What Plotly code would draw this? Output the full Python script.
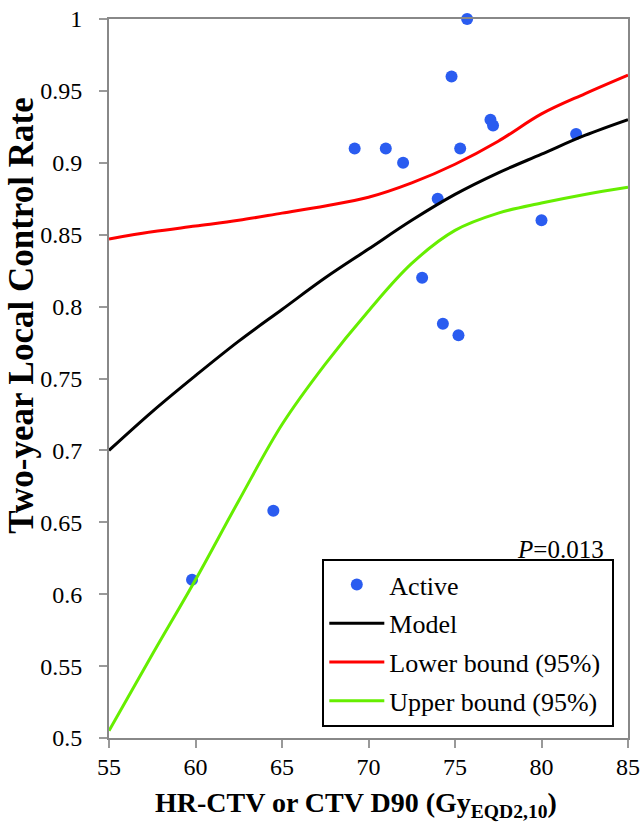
import plotly.graph_objects as go

# Observed data points
dose_pts = [75.7, 74.8, 77.05, 77.2, 69.2, 71.0, 72.0, 75.3, 74.0, 82.0, 80.0, 73.1, 74.3, 75.2, 64.5, 59.8]
lcr_pts = [1.0, 0.96, 0.930, 0.926, 0.910, 0.910, 0.900, 0.910, 0.875, 0.920, 0.860, 0.820, 0.788, 0.780, 0.658, 0.610]

# Model curves
dose_curve = [55, 57.5, 60, 62.5, 65, 67.5, 70, 72.5, 75, 77.5, 80, 82.5, 85]
model = [0.700, 0.727, 0.752, 0.776, 0.798, 0.820, 0.840, 0.860, 0.878, 0.893, 0.906, 0.919, 0.930]
lower = [0.847, 0.852, 0.856, 0.860, 0.865, 0.870, 0.876, 0.886, 0.899, 0.915, 0.934, 0.948, 0.961]
upper = [0.505, 0.558, 0.610, 0.665, 0.718, 0.760, 0.797, 0.830, 0.853, 0.865, 0.872, 0.878, 0.883]

series_names = ["Active", "Model", "Lower bound (95%)", "Upper bound (95%)"]

x_ticks = [55, 60, 65, 70, 75, 80, 85]
y_ticks = [0.5, 0.55, 0.6, 0.65, 0.7, 0.75, 0.8, 0.85, 0.9, 0.95, 1]

FONT = "Liberation Serif, Times New Roman, serif"
X_RANGE = [55, 85]
Y_RANGE = [0.5, 1.0]
PAD = "\u00a0" * 1  # slight widening of the legend box

fig = go.Figure()
fig.add_trace(go.Scatter(x=dose_pts, y=lcr_pts, mode="markers", name=series_names[0],
                         marker=dict(color="#2a5cf0", size=12), legendgroup="a", cliponaxis=False))
fig.add_trace(go.Scatter(x=dose_curve, y=model, mode="lines", name=series_names[1],
                         line=dict(color="black", width=3, shape="spline"), legendgroup="b"))
fig.add_trace(go.Scatter(x=dose_curve, y=lower, mode="lines", name=series_names[2] + PAD,
                         line=dict(color="#ff0000", width=3, shape="spline"), legendgroup="c"))
fig.add_trace(go.Scatter(x=dose_curve, y=upper, mode="lines", name=series_names[3],
                         line=dict(color="#66ee00", width=3, shape="spline"), legendgroup="d"))

tick_style = dict(tickcolor="#999999", ticklen=8, tickwidth=2)

fig.update_layout(
    font=dict(family=FONT, size=24, color="black"),
    xaxis=dict(range=X_RANGE, tickvals=x_ticks, ticktext=[str(v) for v in x_ticks],
               showline=True, linecolor="#888888", linewidth=2, mirror=True, automargin=False,
               showgrid=False, zeroline=False, ticks="outside", ticklabelstandoff=-2,
               tickfont=dict(family=FONT, size=24, color="black"), **tick_style),
    yaxis=dict(range=Y_RANGE, tickvals=y_ticks, ticktext=[f"{v:g}" for v in y_ticks],
               showline=True, linecolor="#888888", linewidth=2, mirror=True, automargin=False,
               showgrid=False, zeroline=False, ticks="outside", ticklabelstandoff=12,
               tickfont=dict(family=FONT, size=24, color="black"), **tick_style),
    # overlay axes providing the inner half of the crossing ticks
    xaxis2=dict(range=X_RANGE, tickvals=x_ticks, overlaying="x", anchor="y", side="bottom",
                ticks="inside", showticklabels=False, showline=False, showgrid=False,
                zeroline=False, automargin=False, **tick_style),
    yaxis2=dict(range=Y_RANGE, tickvals=y_ticks, overlaying="y", anchor="x", side="left",
                ticks="inside", showticklabels=False, showline=False, showgrid=False,
                zeroline=False, automargin=False, **tick_style),
)

fig.add_annotation(x=-0.168, y=0.587, xref="paper", yref="paper", textangle=-90,
                   xanchor="center", yanchor="middle",
                   text="<b>Two-year Local Control Rate</b>", showarrow=False,
                   font=dict(family=FONT, size=35, color="black"))
fig.add_annotation(x=0.475, y=-0.093, xref="paper", yref="paper",
                   xanchor="center", yanchor="middle",
                   text="<b>HR-CTV or CTV D90 (Gy<sub>EQD2,10</sub>)</b>", showarrow=False,
                   font=dict(family=FONT, size=28, color="black"))
fig.add_annotation(x=0.9575, y=0.2615, xref="paper", yref="paper", xanchor="right", yanchor="middle",
                   text="<i>P</i>=0.013", showarrow=False,
                   font=dict(family=FONT, size=25, color="black"))

fig.update_layout(
    width=640, height=824,
    margin=dict(l=109, r=12, t=19, b=86, autoexpand=False),
    paper_bgcolor="white", plot_bgcolor="white",
    showlegend=True,
    legend=dict(x=0.411, y=0.0153, xanchor="left", yanchor="bottom",
                bordercolor="black", borderwidth=2, bgcolor="white",
                font=dict(family=FONT, size=26, color="black"),
                traceorder="grouped", tracegroupgap=2, itemwidth=55),
)

fig.write_html("out.html", config={"displayModeBar": False},
               post_script="document.body.style.margin='0';document.body.style.overflow='hidden';")
